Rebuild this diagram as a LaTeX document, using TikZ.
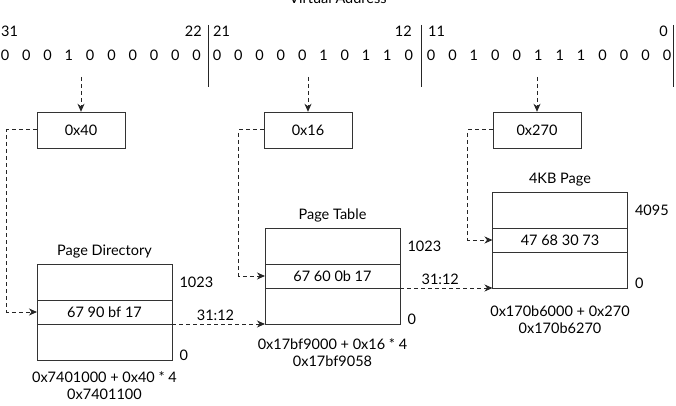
\documentclass[tikz,border=0pt]{standalone}
\usepackage{fontspec}
\setmainfont{Lato}
\usetikzlibrary{positioning,arrows.meta}

\tikzset{
  cell/.style={draw=black!80, minimum width=135pt, outer sep=0pt, inner sep=0pt},
  idxbox/.style={draw=black!80, minimum width=88pt, minimum height=36pt},
  bitnum/.style={inner sep=1pt},
  dasharrow/.style={draw=black!85, line width=1pt, dash pattern=on 4pt off 3pt,
    -{Stealth[length=8pt,width=7pt,inset=2.5pt]}},
}

\begin{document}
\begin{tikzpicture}[x=1pt,y=-1pt,font=\fontsize{14.5}{17}\selectfont]
        \useasboundingbox (0,0) rectangle (676,406);

        % Virtual address and its bit fields
        \node[anchor=base] (title) at (338,4) {Virtual Address};
        \node[bitnum, anchor=west] (n31) at (0,31) {31};
        \node[bitnum, anchor=east] (n22) at (203,31) {22};
        \node[bitnum, anchor=west] (n21) at (212,31) {21};
        \node[bitnum, anchor=east] (n12) at (413,31) {12};
        \node[bitnum, anchor=west] (n11) at (427,31) {11};
        \node[bitnum, anchor=east] (n0) at (669,31) {0};
        \foreach \b [count=\i from 0] in {0,0,0,1,0,0,0,0,0,0}
            \node (dirbit\i) at (5+21.3*\i,55) {\b};
        \foreach \b [count=\i from 0] in {0,0,0,0,0,1,0,1,1,0}
            \node (tblbit\i) at (217+21.3*\i,55) {\b};
        \foreach \b [count=\i from 0] in {0,0,1,0,0,1,1,1,0,0,0,0}
            \node (offbit\i) at (431+21.45*\i,55) {\b};
        \draw[black!85] (208,25) -- (208,87);
        \draw[black!85] (421,25) -- (421,87);
        \draw[black!85] (673,25) -- (673,87);

        % Index boxes
        \node[idxbox] (diridx) at (81,130) {0x40};
        \node[idxbox] (tblidx) at (308,130) {0x16};
        \node[idxbox] (offidx) at (537,130) {0x270};
        \coordinate (dirsrc) at (81,77);
        \coordinate (tblsrc) at (308,77);
        \coordinate (offsrc) at (537,77);
        \draw[dasharrow] (dirsrc) -- (diridx);
        \draw[dasharrow] (tblsrc) -- (tblidx);
        \draw[dasharrow] (offsrc) -- (offidx);

        % Page Directory
        \node[cell, minimum height=36pt, anchor=north] (dirtop) at (104.5,264) {};
        \node[cell, minimum height=24pt, below=0pt of dirtop] (dirent) {67 90 bf 17};
        \node[cell, minimum height=36pt, below=0pt of dirent] (dirbot) {};
        \node[above=2pt of dirtop] (dirname) {Page Directory};
        \node[anchor=west, xshift=4pt] (dirhi) at (dirtop.east) {1023};
        \node[anchor=base west, xshift=4pt] (dirlo) at (dirbot.south east) {0};
        \node[below=8pt of dirbot, align=center] (dircalc) {0x7401000 + 0x40 * 4\\0x7401100};

        % Page Table
        \node[cell, minimum height=36pt, anchor=north] (tbltop) at (332.5,228) {};
        \node[cell, minimum height=24pt, below=0pt of tbltop] (tblent) {67 60 0b 17};
        \node[cell, minimum height=36pt, below=0pt of tblent] (tblbot) {};
        \node[above=2pt of tbltop] (tblname) {Page Table};
        \node[anchor=west, xshift=4pt] (tblhi) at (tbltop.east) {1023};
        \node[anchor=base west, xshift=4pt] (tbllo) at (tblbot.south east) {0};
        \node[below=11pt of tblbot, align=center] (tblcalc) {0x17bf9000 + 0x16 * 4\\0x17bf9058};

        % 4KB Page
        \node[cell, minimum height=36pt, anchor=north] (pgtop) at (560,192) {};
        \node[cell, minimum height=24pt, below=0pt of pgtop] (pgent) {47 68 30 73};
        \node[cell, minimum height=36pt, below=0pt of pgent] (pgbot) {};
        \node[above=2pt of pgtop] (pgname) {4KB Page};
        \node[anchor=west, xshift=4pt] (pghi) at (pgtop.east) {4095};
        \node[anchor=base west, xshift=4pt] (pglo) at (pgbot.south east) {0};
        \node[below=14pt of pgbot, align=center] (pgcalc) {0x170b6000 + 0x270\\0x170b6270};

        % Index lookups
        \draw[dasharrow] (diridx.west) -- ++(-30,0) |- (dirent.west);
        \draw[dasharrow] (tblidx.west) -- ++(-25,0) |- (tblent.west);
        \draw[dasharrow] (offidx.west) -- ++(-25,0) |- (pgent.west);

        % Base addresses from bits 31:12
        \draw[dasharrow] (dirent.south east) -- node[above, xshift=-3pt] (dirbits) {31:12} (tblbot.south west);
        \draw[dasharrow] (tblent.south east) -- node[above, xshift=-6pt] (tblbits) {31:12} (pgbot.south west);
    \end{tikzpicture}
\end{document}
